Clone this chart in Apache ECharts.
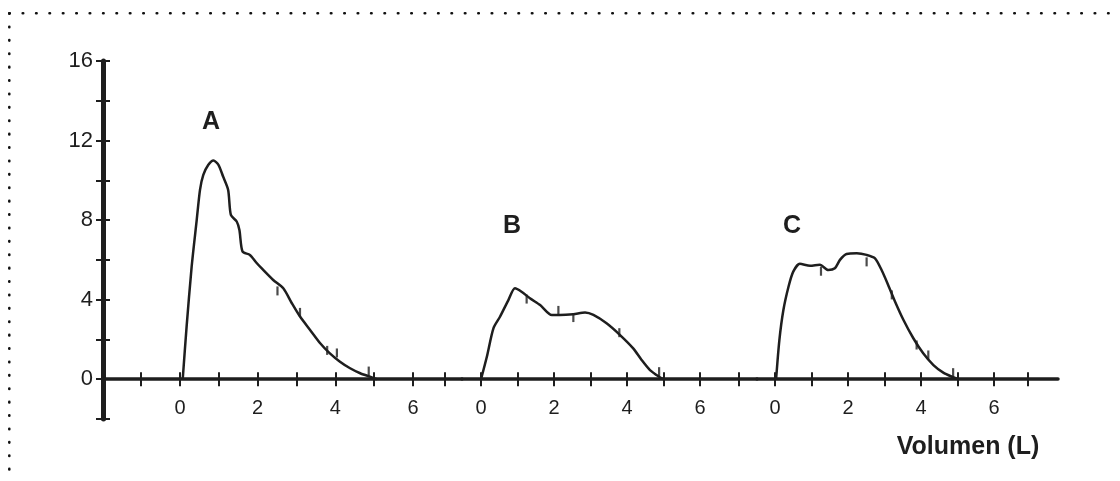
<!DOCTYPE html>
<html>
<head>
<meta charset="utf-8">
<script src="https://cdn.jsdelivr.net/npm/echarts@6/dist/echarts.min.js"></script>
<style>
  html, body { margin: 0; padding: 0; background: #fff; }
  #chart { width: 1120px; height: 481px; }
</style>
</head>
<body>
<div id="chart"></div>
<script>
// flow (L/s) against volume (L), three loops
const curveA = [[0.07,0],[0.17,2.64],[0.30,5.66],[0.43,8.0],[0.515,9.52],[0.60,10.27],[0.73,10.78],[0.86,11.0],[0.99,10.78],[1.11,10.19],[1.24,9.52],[1.31,8.26],[1.46,7.93],[1.53,7.5],[1.61,6.42],[1.80,6.25],[1.98,5.83],[2.10,5.58],[2.40,4.99],[2.66,4.57],[2.88,3.82],[3.09,3.15],[3.35,2.48],[3.61,1.81],[3.86,1.30],[4.12,0.88],[4.38,0.55],[4.64,0.30],[4.89,0.13],[5.07,0]];
const curveB = [[0,0],[0.16,1.13],[0.34,2.56],[0.52,3.14],[0.75,3.98],[0.93,4.57],[1.11,4.40],[1.34,4.07],[1.62,3.73],[1.94,3.23],[2.16,3.23],[2.53,3.27],[2.85,3.35],[3.08,3.23],[3.44,2.81],[3.81,2.22],[4.17,1.55],[4.40,0.97],[4.63,0.46],[4.90,0.1],[5.0,0]];
const curveC = [[0.03,0],[0.12,1.97],[0.23,3.48],[0.37,4.65],[0.50,5.41],[0.68,5.80],[0.96,5.70],[1.23,5.75],[1.46,5.49],[1.64,5.58],[1.78,6.0],[1.96,6.3],[2.24,6.33],[2.51,6.25],[2.74,6.08],[2.92,5.49],[3.10,4.74],[3.29,3.90],[3.52,2.98],[3.79,2.06],[4.06,1.30],[4.34,0.71],[4.61,0.33],[4.88,0.1],[5.02,0]];

// small time marks along each curve
const marksA = [[2.51,4.44],[3.09,3.36],[3.79,1.45],[4.04,1.32],[4.86,0.41]];
const marksB = [[1.25,4.03],[2.12,3.46],[2.53,3.1],[3.79,2.34],[4.88,0.38]];
const marksC = [[1.26,5.43],[2.51,5.9],[3.2,4.24],[3.88,1.72],[4.2,1.22],[4.88,0.33]];

const xLabelValues = [0, 2, 4, 6];
const xTicksA = [-1, 0, 1, 2, 3, 4, 5, 6, 6.82];
const xTicksB = [0, 1, 2, 3, 4, 5, 6, 7.07];
const xTicksC = [0, 1, 2, 3, 4, 5, 6, 6.93];
const yLabelValues = [0, 4, 8, 12, 16];
const loopNames = ['A', 'B', 'C'];

const ink = '#1e1e1e';
const font = 'Liberation Sans, Arial, sans-serif';

const grids = [
    {left: 103, top: 61, width: 359, height: 358},
    {left: 462, top: 61, width: 295, height: 358},
    {left: 757, top: 61, width: 301, height: 358}
];
const ranges = [[-1.983, 7.262], [-0.521, 7.562], [-0.493, 7.753]];
const tickSets = [xTicksA, xTicksB, xTicksC];

let xAxes = [];
let yAxes = [];
for (let g = 0; g < 3; g++) {
    // main x axis: line, ticks downward, labels
    // (labels of an on-zero axis stay at the grid edge, so pull them back up)
    xAxes.push({
        type: 'value', gridIndex: g, min: ranges[g][0], max: ranges[g][1],
        position: 'bottom',
        axisLine: {onZero: true, onZeroAxisIndex: 2 * g, lineStyle: {color: ink, width: 3.5}},
        axisTick: {show: true, length: 7, customValues: tickSets[g], lineStyle: {color: ink, width: 2}},
        axisLabel: {show: true, customValues: xLabelValues, margin: -21, color: ink, fontSize: 20, fontFamily: font},
        splitLine: {show: false}
    });
    // second x axis only to draw the upward half of the ticks
    xAxes.push({
        type: 'value', gridIndex: g, min: ranges[g][0], max: ranges[g][1],
        position: 'top',
        axisLine: {show: false, onZero: true, onZeroAxisIndex: 2 * g + 1},
        axisTick: {show: true, length: 7, customValues: tickSets[g], lineStyle: {color: ink, width: 2}},
        axisLabel: {show: false},
        splitLine: {show: false}
    });
    yAxes.push({
        type: 'value', gridIndex: g, min: -2, max: 16, interval: 2,
        show: g === 0, position: 'left',
        axisLine: {show: true, onZero: false, lineStyle: {color: ink, width: 5}},
        axisTick: {show: true, length: 7, lineStyle: {color: ink, width: 2}},
        axisLabel: {show: true, customValues: yLabelValues, margin: 10, color: ink, fontSize: 22, fontFamily: font},
        splitLine: {show: false}
    });
    yAxes.push({
        type: 'value', gridIndex: g, min: -2, max: 16, interval: 2,
        show: g === 0, position: 'right', offset: -grids[g].width,
        axisLine: {show: false, onZero: false},
        axisTick: {show: true, length: 7, lineStyle: {color: ink, width: 2}},
        axisLabel: {show: false},
        splitLine: {show: false}
    });
}

const curves = [curveA, curveB, curveC];
const marks = [marksA, marksB, marksC];
let series = [];
for (let g = 0; g < 3; g++) {
    series.push({
        name: loopNames[g], type: 'line', data: curves[g],
        xAxisIndex: 2 * g, yAxisIndex: 2 * g,
        smooth: 0.25, showSymbol: false, symbol: 'none',
        lineStyle: {color: ink, width: 2.5},
        z: 5
    });
    series.push({
        type: 'scatter', data: marks[g],
        xAxisIndex: 2 * g, yAxisIndex: 2 * g,
        symbol: 'rect', symbolSize: [2.2, 9],
        itemStyle: {color: ink},
        z: 6
    });
}

const dotted = {stroke: '#111', lineWidth: 2.6, lineDash: [0.5, 12.9], lineCap: 'round'};

const option = {
    animation: false,
    backgroundColor: '#fff',
    grid: grids,
    xAxis: xAxes,
    yAxis: yAxes,
    series: series,
    graphic: [
        {type: 'line', shape: {x1: 9.3, y1: 13.3, x2: 1120, y2: 13.3}, style: dotted, silent: true},
        {type: 'line', shape: {x1: 9.3, y1: 13.3, x2: 9.3, y2: 481}, style: dotted, silent: true},
        {type: 'text', x: 211, y: 122, style: {text: 'A', font: 'bold 25px ' + font, fill: ink, align: 'center', verticalAlign: 'middle'}},
        {type: 'text', x: 512, y: 226, style: {text: 'B', font: 'bold 25px ' + font, fill: ink, align: 'center', verticalAlign: 'middle'}},
        {type: 'text', x: 792, y: 226, style: {text: 'C', font: 'bold 25px ' + font, fill: ink, align: 'center', verticalAlign: 'middle'}},
        {type: 'text', x: 968, y: 447, style: {text: 'Volumen (L)', font: 'bold 25px ' + font, fill: ink, align: 'center', verticalAlign: 'middle'}}
    ]
};

const chart = echarts.init(document.getElementById('chart'), null, {renderer: 'canvas'});
chart.setOption(option);
</script>
</body>
</html>
